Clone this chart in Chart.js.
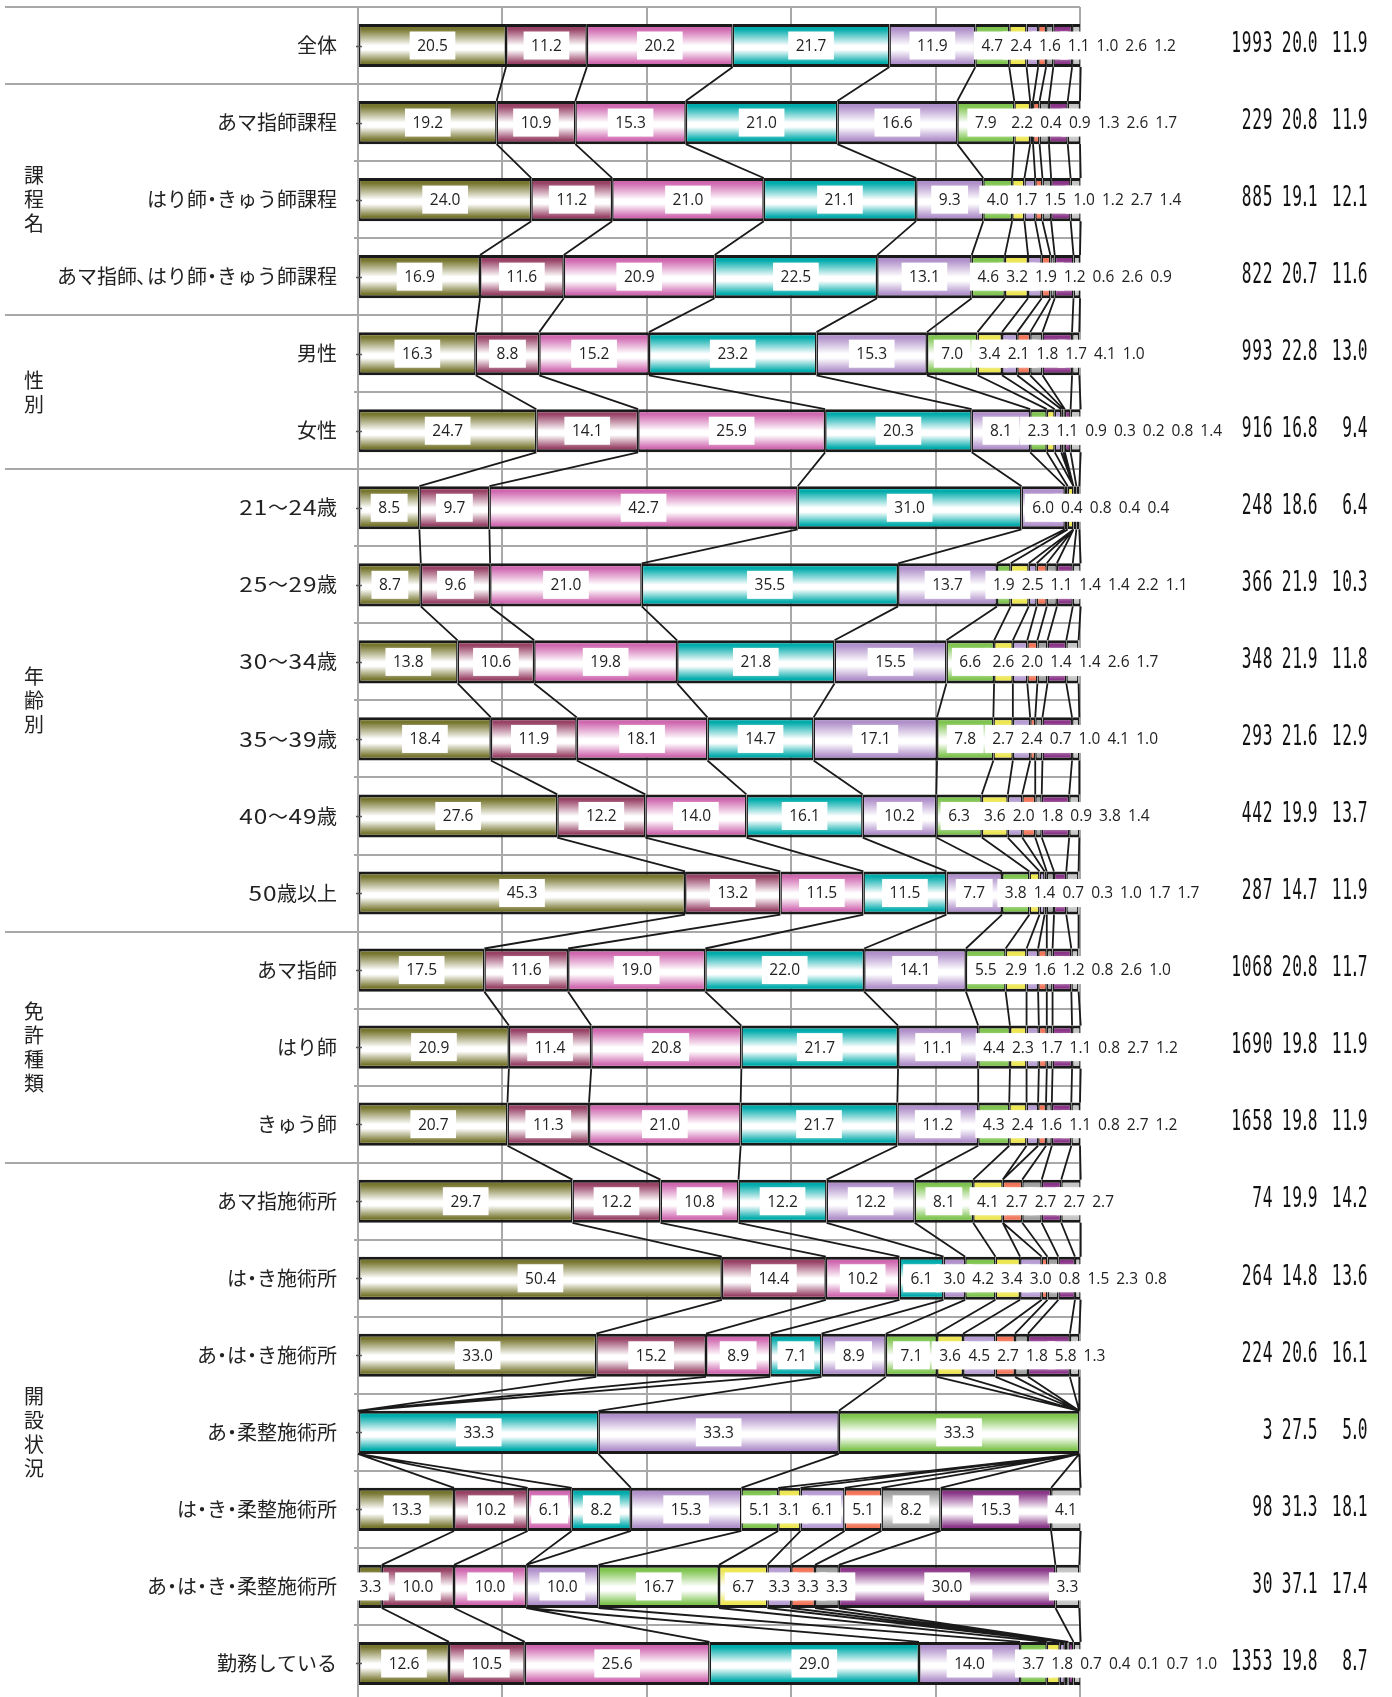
<!DOCTYPE html>
<html lang="ja">
<head>
<meta charset="utf-8">
<title>属性別 構成比</title>
<script src="https://cdn.jsdelivr.net/npm/chart.js@4.4.1/dist/chart.umd.min.js"></script>
<style>
  html, body { margin: 0; padding: 0; background: #fff; overflow: hidden; }
  #wrap { position: relative; width: 1392px; height: 1697px; overflow: hidden; }
  canvas { display: block; }
</style>
</head>
<body>
<div id="wrap"><canvas id="chart" width="1392" height="1702"></canvas></div>
<script>
// ---- rows ----
const categories = [
  '全体',
  'あマ指師課程', 'はり師・きゅう師課程', 'あマ指師、はり師・きゅう師課程',
  '男性', '女性',
  '21～24歳', '25～29歳', '30～34歳', '35～39歳', '40～49歳', '50歳以上',
  'あマ指師', 'はり師', 'きゅう師',
  'あマ指施術所', 'は・き施術所', 'あ・は・き施術所', 'あ・柔整施術所',
  'は・き・柔整施術所', 'あ・は・き・柔整施術所', '勤務している'
];

// ---- row groups (vertical captions on the left) ----
const groupNames    = ['課程名', '性別', '年齢別', '免許種類', '開設状況'];
const groupFirstRow = [1, 4, 6, 12, 15];
const groupLastRow  = [3, 5, 11, 14, 21];

// ---- answer shares (%), one array per answer band, left to right ----
const answer1  = [20.5, 19.2, 24.0, 16.9, 16.3, 24.7,  8.5,  8.7, 13.8, 18.4, 27.6, 45.3, 17.5, 20.9, 20.7, 29.7, 50.4, 33.0,  0.0, 13.3,  3.3, 12.6];
const answer2  = [11.2, 10.9, 11.2, 11.6,  8.8, 14.1,  9.7,  9.6, 10.6, 11.9, 12.2, 13.2, 11.6, 11.4, 11.3, 12.2, 14.4, 15.2,  0.0, 10.2, 10.0, 10.5];
const answer3  = [20.2, 15.3, 21.0, 20.9, 15.2, 25.9, 42.7, 21.0, 19.8, 18.1, 14.0, 11.5, 19.0, 20.8, 21.0, 10.8, 10.2,  8.9,  0.0,  6.1, 10.0, 25.6];
const answer4  = [21.7, 21.0, 21.1, 22.5, 23.2, 20.3, 31.0, 35.5, 21.8, 14.7, 16.1, 11.5, 22.0, 21.7, 21.7, 12.2,  6.1,  7.1, 33.3,  8.2,  0.0, 29.0];
const answer5  = [11.9, 16.6,  9.3, 13.1, 15.3,  8.1,  6.0, 13.7, 15.5, 17.1, 10.2,  7.7, 14.1, 11.1, 11.2, 12.2,  3.0,  8.9, 33.3, 15.3, 10.0, 14.0];
const answer6  = [ 4.7,  7.9,  4.0,  4.6,  7.0,  2.3,  0.4,  1.9,  6.6,  7.8,  6.3,  3.8,  5.5,  4.4,  4.3,  8.1,  4.2,  7.1, 33.3,  5.1, 16.7,  3.7];
const answer7  = [ 2.4,  2.2,  1.7,  3.2,  3.4,  1.1,  0.8,  2.5,  2.6,  2.7,  3.6,  1.4,  2.9,  2.3,  2.4,  4.1,  3.4,  3.6,  0.0,  3.1,  6.7,  1.8];
const answer8  = [ 1.6,  0.4,  1.5,  1.9,  2.1,  0.9,  0.0,  1.1,  2.0,  2.4,  2.0,  0.7,  1.6,  1.7,  1.6,  0.0,  3.0,  4.5,  0.0,  6.1,  3.3,  0.7];
const answer9  = [ 1.1,  0.9,  1.0,  1.2,  1.8,  0.3,  0.0,  1.4,  1.4,  0.7,  1.8,  0.3,  1.2,  1.1,  1.1,  2.7,  0.8,  2.7,  0.0,  5.1,  3.3,  0.4];
const answer10 = [ 1.0,  1.3,  1.2,  0.6,  1.7,  0.2,  0.0,  1.4,  1.4,  1.0,  0.9,  1.0,  0.8,  0.8,  0.8,  2.7,  1.5,  1.8,  0.0,  8.2,  3.3,  0.1];
const answer11 = [ 2.6,  2.6,  2.7,  2.6,  4.1,  0.8,  0.4,  2.2,  2.6,  4.1,  3.8,  1.7,  2.6,  2.7,  2.7,  2.7,  2.3,  5.8,  0.0, 15.3, 30.0,  0.7];
const answer12 = [ 1.2,  1.7,  1.4,  0.9,  1.0,  1.4,  0.4,  1.1,  1.7,  1.0,  1.4,  1.7,  1.0,  1.2,  1.2,  2.7,  0.8,  1.3,  0.0,  4.1,  3.3,  1.0];

// ---- right-hand columns: respondents, mean, standard deviation ----
const respondents = [1993, 229, 885, 822, 993, 916, 248, 366, 348, 293, 442, 287, 1068, 1690, 1658, 74, 264, 224, 3, 98, 30, 1353];
const means       = [20.0, 20.8, 19.1, 20.7, 22.8, 16.8, 18.6, 21.9, 21.9, 21.6, 19.9, 14.7, 20.8, 19.8, 19.8, 19.9, 14.8, 20.6, 27.5, 31.3, 37.1, 19.8];
const stdDevs     = [11.9, 11.9, 12.1, 11.6, 13.0,  9.4,  6.4, 10.3, 11.8, 12.9, 13.7, 11.9, 11.7, 11.9, 11.9, 14.2, 13.6, 16.1,  5.0, 18.1, 17.4,  8.7];

const series = [answer1, answer2, answer3, answer4, answer5, answer6,
                answer7, answer8, answer9, answer10, answer11, answer12];

// ---- styling ----
const bandColors = ['#77762f', '#984266', '#d068b0', '#00abab', '#b090ca', '#7ec44e',
                    '#ece650', '#b69cd2', '#f27458', '#9f9f9f', '#8a3588', '#c4c4c4'];
const BAR_SHARE = 0.56;
const GRID = '#a8a8a8';
const INK = '#1a1a1a';

function shaded(color) {
  return (ctx) => {
    const chart = ctx.chart;
    const ys = chart.scales && chart.scales.y;
    if (ctx.type !== 'data' || !ys || !chart.chartArea) return color;
    const yc = ys.getPixelForValue(ctx.dataIndex);
    const half = (ys.bottom - ys.top) / categories.length * BAR_SHARE / 2;
    const g = chart.ctx.createLinearGradient(0, yc - half, 0, yc + half);
    g.addColorStop(0, color);
    g.addColorStop(0.12, color);
    g.addColorStop(0.5, '#ffffff');
    g.addColorStop(0.6, '#ffffff');
    g.addColorStop(0.9, color);
    g.addColorStop(1, color);
    return g;
  };
}

// series lines joining each band boundary from one bar to the next
const seriesLines = {
  id: 'seriesLines',
  beforeDatasetsDraw(chart) {
    const c = chart.ctx;
    c.save();
    c.strokeStyle = INK;
    c.lineWidth = 1.8;
    c.beginPath();
    for (let r = 0; r < categories.length - 1; r++) {
      for (let s = 0; s < series.length; s++) {
        const meta = chart.getDatasetMeta(s);
        const a = meta.data[r], b = meta.data[r + 1];
        c.moveTo(a.x, a.y + a.height / 2);
        c.lineTo(b.x, b.y - b.height / 2);
      }
    }
    c.stroke();
    c.restore();
  }
};

// value labels in white boxes; crowded small values are pushed to the right
const segmentLabels = {
  id: 'segmentLabels',
  afterDatasetsDraw(chart) {
    const c = chart.ctx;
    const area = chart.chartArea;
    c.save();
    // category tick marks on the left axis
    c.strokeStyle = '#555';
    c.lineWidth = 1.5;
    c.beginPath();
    for (let r = 0; r < categories.length; r++) {
      const y = Math.round(chart.scales.y.getPixelForValue(r)) + 0.5;
      c.moveTo(area.left - 2, y);
      c.lineTo(area.left + 4, y);
    }
    c.stroke();

    c.font = '15.5px "Open Sans", "DejaVu Sans", sans-serif';
    c.textAlign = 'center';
    c.textBaseline = 'middle';
    for (let r = 0; r < categories.length; r++) {
      let prevX = -Infinity, prevW = 0;
      for (let s = 0; s < series.length; s++) {
        const v = series[s][r];
        if (!v) continue;
        const el = chart.getDatasetMeta(s).data[r];
        const txt = v.toFixed(1);
        const w = c.measureText(txt).width;
        let x = (el.x + el.base) / 2;
        const minX = prevX + (prevW + w) / 2 + 7;
        if (x < minX) x = minX;
        const bw = w + 15, bh = 28;
        c.fillStyle = '#ffffff';
        c.fillRect(x - bw / 2, el.y - bh / 2, bw, bh);
        c.fillStyle = '#222';
        c.fillText(txt, x, el.y + 1);
        prevX = x; prevW = w;
      }
    }
    c.restore();
  }
};

// row caption: narrow punctuation and wide digits, right-aligned
function drawCaption(c, text, xRight, y) {
  const DIGIT_SCALE = 1.22;
  const parts = Array.from(text).map((ch) => {
    const w = c.measureText(ch).width;
    if (ch === '・' || ch === '、') return { ch, adv: 10, kind: ch === '、' ? 'comma' : 'dot', w };
    if (/[0-9]/.test(ch)) return { ch, adv: w * DIGIT_SCALE + 1, kind: 'digit', w };
    return { ch, adv: w, kind: 'plain', w };
  });
  let x = xRight - parts.reduce((a, p) => a + p.adv, 0);
  parts.forEach((p) => {
    c.save();
    if (p.kind === 'comma') {
      c.textAlign = 'left';
      c.fillText(p.ch, x - 1, y);
    } else if (p.kind === 'digit') {
      c.textAlign = 'center';
      c.translate(x + p.adv / 2, y);
      c.scale(DIGIT_SCALE, 1);
      c.fillText(p.ch, 0, 0);
    } else {
      c.textAlign = 'center';
      c.fillText(p.ch, x + p.adv / 2, y);
    }
    c.restore();
    x += p.adv;
  });
}

// row captions, group captions, dividers and the numeric columns
const frame = {
  id: 'frame',
  afterDraw(chart) {
    const c = chart.ctx;
    const area = chart.chartArea;
    const ys = chart.scales.y;
    const band = (area.bottom - area.top) / categories.length;
    c.save();

    // top rule and group dividers across the caption column
    c.strokeStyle = GRID;
    c.lineWidth = 2;
    c.beginPath();
    [0].concat(groupFirstRow).forEach((k) => {
      const y = Math.round(area.top + band * k);
      c.moveTo(5, y);
      c.lineTo(area.left, y);
    });
    c.stroke();

    // row captions
    c.fillStyle = '#222';
    c.font = '20px "Noto Sans CJK JP", sans-serif';
    c.textBaseline = 'middle';
    categories.forEach((name, r) => {
      drawCaption(c, name, area.left - 21, ys.getPixelForValue(r));
    });

    // group captions, one character per line
    c.textAlign = 'center';
    groupNames.forEach((name, g) => {
      const yMid = (ys.getPixelForValue(groupFirstRow[g]) + ys.getPixelForValue(groupLastRow[g])) / 2;
      const chars = Array.from(name);
      const step = 24;
      chars.forEach((ch, i) => {
        c.fillText(ch, 34, yMid + (i - (chars.length - 1) / 2) * step);
      });
    });

    // numeric columns: condensed digits, narrow decimal point
    c.fillStyle = '#111';
    c.font = '28px "DejaVu Sans Mono", monospace';
    c.textAlign = 'center';
    c.textBaseline = 'middle';
    const cols = [
      { values: respondents, right: 1273, fmt: (v) => String(v) },
      { values: means,       right: 1318, fmt: (v) => v.toFixed(1) },
      { values: stdDevs,     right: 1368, fmt: (v) => v.toFixed(1) }
    ];
    for (let r = 0; r < categories.length; r++) {
      const y = ys.getPixelForValue(r) - 1;
      cols.forEach((col) => {
        const chars = Array.from(col.fmt(col.values[r]));
        const adv = chars.map((ch) => (ch === '.' ? 5 : 10.5));
        let x = col.right - adv.reduce((a, b) => a + b, 0);
        chars.forEach((ch, i) => {
          c.save();
          c.translate(x + adv[i] / 2, y);
          c.scale(0.58, 1);
          c.fillText(ch, 0, 0);
          c.restore();
          x += adv[i];
        });
      });
    }
    c.restore();
  }
};

const datasets = series.map((values, i) => ({
  data: values,
  backgroundColor: shaded(bandColors[i]),
  borderColor: INK,
  borderWidth: { top: 3, bottom: 3, left: 1.5, right: 1.5 },
  borderSkipped: false,
  barPercentage: 1,
  categoryPercentage: BAR_SHARE
}));

new Chart(document.getElementById('chart'), {
  type: 'bar',
  data: { labels: categories, datasets },
  options: {
    indexAxis: 'y',
    responsive: false,
    animation: false,
    events: [],
    layout: { padding: { left: 354, right: 312, top: 7, bottom: 0 } },
    plugins: { legend: { display: false }, tooltip: { enabled: false } },
    scales: {
      x: {
        stacked: true,
        min: 0,
        max: 100,
        ticks: { display: false, stepSize: 20 },
        grid: { color: GRID, lineWidth: 2, drawTicks: false },
        border: { display: false }
      },
      y: {
        stacked: true,
        ticks: { display: false },
        grid: { color: GRID, lineWidth: 2, drawTicks: true, tickLength: 4, offset: true },
        border: { display: true, color: GRID, width: 2 }
      }
    }
  },
  plugins: [seriesLines, segmentLabels, frame]
});
</script>
</body>
</html>
